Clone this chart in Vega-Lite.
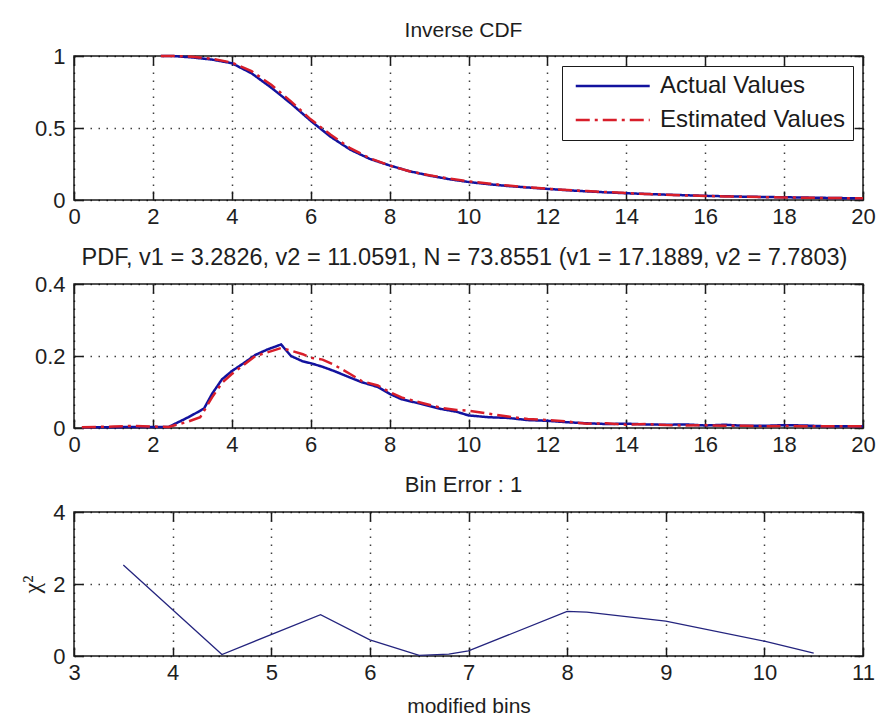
{
  "$schema": "https://vega.github.io/schema/vega-lite/v6.json",
  "background": "white",
  "padding": {"left": 20, "top": 19, "right": 5, "bottom": 2},
  "spacing": 84,
  "bounds": "flush",
  "datasets": {
    "cdf": [
      {"x": 2.2, "v": 1.0, "s": "Actual Values"}, {"x": 2.5, "v": 1.0, "s": "Actual Values"}, {"x": 3.0, "v": 0.99, "s": "Actual Values"}, {"x": 3.5, "v": 0.975, "s": "Actual Values"}, {"x": 4.0, "v": 0.95, "s": "Actual Values"}, {"x": 4.5, "v": 0.88, "s": "Actual Values"}, {"x": 5.0, "v": 0.78, "s": "Actual Values"}, {"x": 5.5, "v": 0.67, "s": "Actual Values"}, {"x": 6.0, "v": 0.55, "s": "Actual Values"}, {"x": 6.5, "v": 0.44, "s": "Actual Values"}, {"x": 7.0, "v": 0.35, "s": "Actual Values"}, {"x": 7.5, "v": 0.285, "s": "Actual Values"}, {"x": 8.0, "v": 0.24, "s": "Actual Values"}, {"x": 8.5, "v": 0.2, "s": "Actual Values"}, {"x": 9.0, "v": 0.17, "s": "Actual Values"}, {"x": 9.5, "v": 0.145, "s": "Actual Values"}, {"x": 10.0, "v": 0.125, "s": "Actual Values"}, {"x": 10.5, "v": 0.11, "s": "Actual Values"}, {"x": 11.0, "v": 0.097, "s": "Actual Values"}, {"x": 11.5, "v": 0.087, "s": "Actual Values"}, {"x": 12.0, "v": 0.077, "s": "Actual Values"}, {"x": 12.5, "v": 0.068, "s": "Actual Values"}, {"x": 13.0, "v": 0.06, "s": "Actual Values"}, {"x": 13.5, "v": 0.053, "s": "Actual Values"}, {"x": 14.0, "v": 0.047, "s": "Actual Values"}, {"x": 14.5, "v": 0.042, "s": "Actual Values"}, {"x": 15.0, "v": 0.037, "s": "Actual Values"}, {"x": 15.5, "v": 0.033, "s": "Actual Values"}, {"x": 16.0, "v": 0.029, "s": "Actual Values"}, {"x": 16.5, "v": 0.026, "s": "Actual Values"}, {"x": 17.0, "v": 0.023, "s": "Actual Values"}, {"x": 17.5, "v": 0.021, "s": "Actual Values"}, {"x": 18.0, "v": 0.019, "s": "Actual Values"}, {"x": 18.5, "v": 0.017, "s": "Actual Values"}, {"x": 19.0, "v": 0.015, "s": "Actual Values"}, {"x": 19.5, "v": 0.013, "s": "Actual Values"}, {"x": 20.0, "v": 0.012, "s": "Actual Values"},
      {"x": 2.2, "v": 1.0, "s": "Estimated Values"}, {"x": 2.5, "v": 1.0, "s": "Estimated Values"}, {"x": 3.0, "v": 0.995, "s": "Estimated Values"}, {"x": 3.5, "v": 0.98, "s": "Estimated Values"}, {"x": 4.0, "v": 0.955, "s": "Estimated Values"}, {"x": 4.5, "v": 0.895, "s": "Estimated Values"}, {"x": 5.0, "v": 0.8, "s": "Estimated Values"}, {"x": 5.5, "v": 0.685, "s": "Estimated Values"}, {"x": 6.0, "v": 0.56, "s": "Estimated Values"}, {"x": 6.5, "v": 0.455, "s": "Estimated Values"}, {"x": 7.0, "v": 0.36, "s": "Estimated Values"}, {"x": 7.5, "v": 0.29, "s": "Estimated Values"}, {"x": 8.0, "v": 0.24, "s": "Estimated Values"}, {"x": 8.5, "v": 0.2, "s": "Estimated Values"}, {"x": 9.0, "v": 0.172, "s": "Estimated Values"}, {"x": 9.5, "v": 0.15, "s": "Estimated Values"}, {"x": 10.0, "v": 0.13, "s": "Estimated Values"}, {"x": 10.5, "v": 0.115, "s": "Estimated Values"}, {"x": 11.0, "v": 0.1, "s": "Estimated Values"}, {"x": 11.5, "v": 0.088, "s": "Estimated Values"}, {"x": 12.0, "v": 0.078, "s": "Estimated Values"}, {"x": 12.5, "v": 0.07, "s": "Estimated Values"}, {"x": 13.0, "v": 0.062, "s": "Estimated Values"}, {"x": 13.5, "v": 0.055, "s": "Estimated Values"}, {"x": 14.0, "v": 0.048, "s": "Estimated Values"}, {"x": 14.5, "v": 0.042, "s": "Estimated Values"}, {"x": 15.0, "v": 0.036, "s": "Estimated Values"}, {"x": 15.5, "v": 0.032, "s": "Estimated Values"}, {"x": 16.0, "v": 0.028, "s": "Estimated Values"}, {"x": 16.5, "v": 0.025, "s": "Estimated Values"}, {"x": 17.0, "v": 0.022, "s": "Estimated Values"}, {"x": 17.5, "v": 0.02, "s": "Estimated Values"}, {"x": 18.0, "v": 0.018, "s": "Estimated Values"}, {"x": 18.5, "v": 0.016, "s": "Estimated Values"}, {"x": 19.0, "v": 0.014, "s": "Estimated Values"}, {"x": 19.5, "v": 0.013, "s": "Estimated Values"}, {"x": 20.0, "v": 0.012, "s": "Estimated Values"}
    ],
    "pdf": [
      {"x": 0.2, "v": 0.002, "s": "Actual Values"}, {"x": 1.0, "v": 0.002, "s": "Actual Values"}, {"x": 1.5, "v": 0.003, "s": "Actual Values"}, {"x": 2.0, "v": 0.003, "s": "Actual Values"}, {"x": 2.4, "v": 0.003, "s": "Actual Values"}, {"x": 2.9, "v": 0.03, "s": "Actual Values"}, {"x": 3.2, "v": 0.048, "s": "Actual Values"}, {"x": 3.3, "v": 0.055, "s": "Actual Values"}, {"x": 3.5, "v": 0.095, "s": "Actual Values"}, {"x": 3.75, "v": 0.135, "s": "Actual Values"}, {"x": 4.0, "v": 0.158, "s": "Actual Values"}, {"x": 4.3, "v": 0.18, "s": "Actual Values"}, {"x": 4.6, "v": 0.203, "s": "Actual Values"}, {"x": 4.9, "v": 0.218, "s": "Actual Values"}, {"x": 5.25, "v": 0.232, "s": "Actual Values"}, {"x": 5.5, "v": 0.2, "s": "Actual Values"}, {"x": 5.8, "v": 0.185, "s": "Actual Values"}, {"x": 6.0, "v": 0.18, "s": "Actual Values"}, {"x": 6.3, "v": 0.17, "s": "Actual Values"}, {"x": 6.6, "v": 0.158, "s": "Actual Values"}, {"x": 7.0, "v": 0.14, "s": "Actual Values"}, {"x": 7.3, "v": 0.127, "s": "Actual Values"}, {"x": 7.7, "v": 0.114, "s": "Actual Values"}, {"x": 8.0, "v": 0.095, "s": "Actual Values"}, {"x": 8.3, "v": 0.08, "s": "Actual Values"}, {"x": 8.8, "v": 0.067, "s": "Actual Values"}, {"x": 9.3, "v": 0.053, "s": "Actual Values"}, {"x": 9.7, "v": 0.045, "s": "Actual Values"}, {"x": 10.0, "v": 0.035, "s": "Actual Values"}, {"x": 10.5, "v": 0.03, "s": "Actual Values"}, {"x": 11.0, "v": 0.028, "s": "Actual Values"}, {"x": 11.5, "v": 0.022, "s": "Actual Values"}, {"x": 12.0, "v": 0.02, "s": "Actual Values"}, {"x": 12.5, "v": 0.016, "s": "Actual Values"}, {"x": 13.0, "v": 0.013, "s": "Actual Values"}, {"x": 13.5, "v": 0.011, "s": "Actual Values"}, {"x": 14.0, "v": 0.012, "s": "Actual Values"}, {"x": 14.5, "v": 0.01, "s": "Actual Values"}, {"x": 15.0, "v": 0.009, "s": "Actual Values"}, {"x": 15.5, "v": 0.01, "s": "Actual Values"}, {"x": 16.0, "v": 0.007, "s": "Actual Values"}, {"x": 16.5, "v": 0.009, "s": "Actual Values"}, {"x": 17.0, "v": 0.006, "s": "Actual Values"}, {"x": 17.5, "v": 0.006, "s": "Actual Values"}, {"x": 18.0, "v": 0.008, "s": "Actual Values"}, {"x": 18.5, "v": 0.007, "s": "Actual Values"}, {"x": 19.0, "v": 0.005, "s": "Actual Values"}, {"x": 19.5, "v": 0.005, "s": "Actual Values"}, {"x": 20.0, "v": 0.005, "s": "Actual Values"},
      {"x": 0.2, "v": 0.002, "s": "Estimated Values"}, {"x": 1.0, "v": 0.004, "s": "Estimated Values"}, {"x": 1.5, "v": 0.006, "s": "Estimated Values"}, {"x": 2.0, "v": 0.004, "s": "Estimated Values"}, {"x": 2.4, "v": 0.003, "s": "Estimated Values"}, {"x": 2.9, "v": 0.018, "s": "Estimated Values"}, {"x": 3.2, "v": 0.03, "s": "Estimated Values"}, {"x": 3.5, "v": 0.085, "s": "Estimated Values"}, {"x": 3.75, "v": 0.125, "s": "Estimated Values"}, {"x": 4.0, "v": 0.15, "s": "Estimated Values"}, {"x": 4.3, "v": 0.175, "s": "Estimated Values"}, {"x": 4.6, "v": 0.2, "s": "Estimated Values"}, {"x": 4.9, "v": 0.21, "s": "Estimated Values"}, {"x": 5.25, "v": 0.222, "s": "Estimated Values"}, {"x": 5.5, "v": 0.215, "s": "Estimated Values"}, {"x": 5.8, "v": 0.205, "s": "Estimated Values"}, {"x": 6.0, "v": 0.195, "s": "Estimated Values"}, {"x": 6.3, "v": 0.19, "s": "Estimated Values"}, {"x": 6.6, "v": 0.175, "s": "Estimated Values"}, {"x": 7.0, "v": 0.15, "s": "Estimated Values"}, {"x": 7.3, "v": 0.13, "s": "Estimated Values"}, {"x": 7.7, "v": 0.118, "s": "Estimated Values"}, {"x": 8.0, "v": 0.1, "s": "Estimated Values"}, {"x": 8.3, "v": 0.085, "s": "Estimated Values"}, {"x": 8.8, "v": 0.07, "s": "Estimated Values"}, {"x": 9.3, "v": 0.056, "s": "Estimated Values"}, {"x": 9.7, "v": 0.05, "s": "Estimated Values"}, {"x": 10.0, "v": 0.048, "s": "Estimated Values"}, {"x": 10.5, "v": 0.04, "s": "Estimated Values"}, {"x": 11.0, "v": 0.032, "s": "Estimated Values"}, {"x": 11.5, "v": 0.025, "s": "Estimated Values"}, {"x": 12.0, "v": 0.022, "s": "Estimated Values"}, {"x": 12.5, "v": 0.018, "s": "Estimated Values"}, {"x": 13.0, "v": 0.012, "s": "Estimated Values"}, {"x": 13.5, "v": 0.013, "s": "Estimated Values"}, {"x": 14.0, "v": 0.009, "s": "Estimated Values"}, {"x": 14.5, "v": 0.011, "s": "Estimated Values"}, {"x": 15.0, "v": 0.008, "s": "Estimated Values"}, {"x": 15.5, "v": 0.007, "s": "Estimated Values"}, {"x": 16.0, "v": 0.008, "s": "Estimated Values"}, {"x": 16.5, "v": 0.006, "s": "Estimated Values"}, {"x": 17.0, "v": 0.006, "s": "Estimated Values"}, {"x": 17.5, "v": 0.005, "s": "Estimated Values"}, {"x": 18.0, "v": 0.006, "s": "Estimated Values"}, {"x": 18.5, "v": 0.005, "s": "Estimated Values"}, {"x": 19.0, "v": 0.005, "s": "Estimated Values"}, {"x": 19.5, "v": 0.005, "s": "Estimated Values"}, {"x": 20.0, "v": 0.005, "s": "Estimated Values"}
    ],
    "chi": [
      {"bin": 3.5, "chi2": 2.53}, {"bin": 4.5, "chi2": 0.04}, {"bin": 5.5, "chi2": 1.15}, {"bin": 6.0, "chi2": 0.45}, {"bin": 6.5, "chi2": 0.02}, {"bin": 6.8, "chi2": 0.05}, {"bin": 7.0, "chi2": 0.14}, {"bin": 8.0, "chi2": 1.24}, {"bin": 8.2, "chi2": 1.22}, {"bin": 9.0, "chi2": 0.97}, {"bin": 10.0, "chi2": 0.41}, {"bin": 10.5, "chi2": 0.08}
    ]
  },
  "vconcat": [
    {
      "title": {"text": "Inverse CDF", "dx": -5},
      "width": 789,
      "height": 144,
      "data": {"name": "cdf"},
      "resolve": {"axis": {"x": "independent", "y": "independent"}},
      "layer": [
        {
          "mark": {"type": "line", "strokeWidth": 2.5},
          "encoding": {
            "x": {"field": "x", "type": "quantitative", "scale": {"domain": [0, 20], "nice": false}, "axis": {"values": [0, 2, 4, 6, 8, 10, 12, 14, 16, 18, 20], "title": null, "format": "~g"}},
            "y": {"field": "v", "type": "quantitative", "scale": {"domain": [0, 1], "nice": false}, "axis": {"values": [0, 0.5, 1], "title": null, "format": "~g"}},
            "color": {"field": "s", "type": "nominal", "scale": {"domain": ["Actual Values", "Estimated Values"], "range": ["#12129e", "#d81e2a"]},
              "legend": {"title": null, "orient": "top-right", "offset": 10, "fillColor": "white", "strokeColor": "#1a1a1a", "padding": 8, "symbolType": "M-1,0H7", "symbolSize": 342, "symbolOffset": 3, "symbolStrokeWidth": 2.5, "labelFontSize": 24, "labelColor": "#1a1a1a", "labelFont": "Liberation Sans", "labelOffset": 63, "labelLimit": 400, "rowPadding": 10, "labelExpr": "datum.label + '\u00a0'"}},
            "strokeDash": {"field": "s", "type": "nominal", "scale": {"domain": ["Actual Values", "Estimated Values"], "range": [[1, 0], [14, 5, 3, 5]]}, "legend": {"title": null}},
            "order": {"field": "x", "type": "quantitative"}
          }
        },
        {
          "mark": {"type": "point", "opacity": 0},
          "encoding": {
            "x": {"field": "x", "type": "quantitative", "axis": {"orient": "top", "values": [0, 2, 4, 6, 8, 10, 12, 14, 16, 18, 20], "labels": false, "grid": false, "title": null}},
            "y": {"field": "v", "type": "quantitative", "axis": {"orient": "right", "values": [0, 0.5, 1], "labels": false, "grid": false, "title": null}}
          }
        }
      ]
    },
    {
      "title": {"text": "PDF, v1 = 3.2826, v2 = 11.0591, N = 73.8551 (v1 = 17.1889, v2 = 7.7803)", "fontSize": 23.5, "dx": -4},
      "width": 789,
      "height": 144,
      "data": {"name": "pdf"},
      "resolve": {"axis": {"x": "independent", "y": "independent"}},
      "layer": [
        {
          "mark": {"type": "line", "strokeWidth": 2.5},
          "encoding": {
            "x": {"field": "x", "type": "quantitative", "scale": {"domain": [0, 20], "nice": false}, "axis": {"values": [0, 2, 4, 6, 8, 10, 12, 14, 16, 18, 20], "title": null, "format": "~g"}},
            "y": {"field": "v", "type": "quantitative", "scale": {"domain": [0, 0.4], "nice": false}, "axis": {"values": [0, 0.2, 0.4], "title": null, "format": "~g"}},
            "color": {"field": "s", "type": "nominal", "scale": {"domain": ["Actual Values", "Estimated Values"], "range": ["#12129e", "#d81e2a"]}, "legend": null},
            "strokeDash": {"field": "s", "type": "nominal", "scale": {"domain": ["Actual Values", "Estimated Values"], "range": [[1, 0], [14, 5, 3, 5]]}, "legend": null},
            "order": {"field": "x", "type": "quantitative"}
          }
        },
        {
          "mark": {"type": "point", "opacity": 0},
          "encoding": {
            "x": {"field": "x", "type": "quantitative", "axis": {"orient": "top", "values": [0, 2, 4, 6, 8, 10, 12, 14, 16, 18, 20], "labels": false, "grid": false, "title": null}},
            "y": {"field": "v", "type": "quantitative", "axis": {"orient": "right", "values": [0, 0.2, 0.4], "labels": false, "grid": false, "title": null}}
          }
        }
      ]
    },
    {
      "title": {"text": "Bin Error : 1", "fontSize": 22, "dx": -5},
      "width": 789,
      "height": 144,
      "data": {"name": "chi"},
      "resolve": {"axis": {"x": "independent", "y": "independent"}},
      "layer": [
        {
          "mark": {"type": "line", "strokeWidth": 1.3, "color": "#24247e"},
          "encoding": {
            "x": {"field": "bin", "type": "quantitative", "scale": {"domain": [3, 11], "nice": false, "zero": false}, "axis": {"values": [3, 4, 5, 6, 7, 8, 9, 10, 11], "title": "modified bins", "titlePadding": 12, "format": "~g"}},
            "y": {"field": "chi2", "type": "quantitative", "scale": {"domain": [0, 4], "nice": false}, "axis": {"values": [0, 2, 4], "title": "χ²", "titleFont": "Liberation Serif", "titleFontSize": 24, "titlePadding": 8, "format": "~g"}}
          }
        },
        {
          "mark": {"type": "point", "opacity": 0},
          "encoding": {
            "x": {"field": "bin", "type": "quantitative", "axis": {"orient": "top", "values": [3, 4, 5, 6, 7, 8, 9, 10, 11], "labels": false, "grid": false, "title": null}},
            "y": {"field": "chi2", "type": "quantitative", "axis": {"orient": "right", "values": [0, 2, 4], "labels": false, "grid": false, "title": null}}
          }
        }
      ]
    }
  ],
  "config": {
    "font": "Liberation Sans",
    "view": {"stroke": "#1a1a1a", "strokeWidth": 1.5},
    "axis": {
      "labelFont": "Liberation Sans",
      "labelFontSize": 22,
      "labelColor": "#1e1e1e",
      "tickColor": "#1a1a1a",
      "tickSize": -9,
      "tickWidth": 1.5,
      "domain": false,
      "grid": true,
      "gridColor": "#000000",
      "gridDash": [1.5, 6.5],
      "gridWidth": 1.5,
      "gridOpacity": 0.75,
      "titleFont": "Liberation Sans",
      "titleFontWeight": "normal",
      "titleFontSize": 21,
      "titleColor": "#1e1e1e",
      "labelFlush": false,
      "labelOverlap": false
    },
    "axisX": {"labelPadding": 15},
    "axisY": {"labelPadding": 18},
    "title": {"fontSize": 21, "fontWeight": "normal", "color": "#1e1e1e", "offset": 4, "font": "Liberation Sans"}
  }
}
